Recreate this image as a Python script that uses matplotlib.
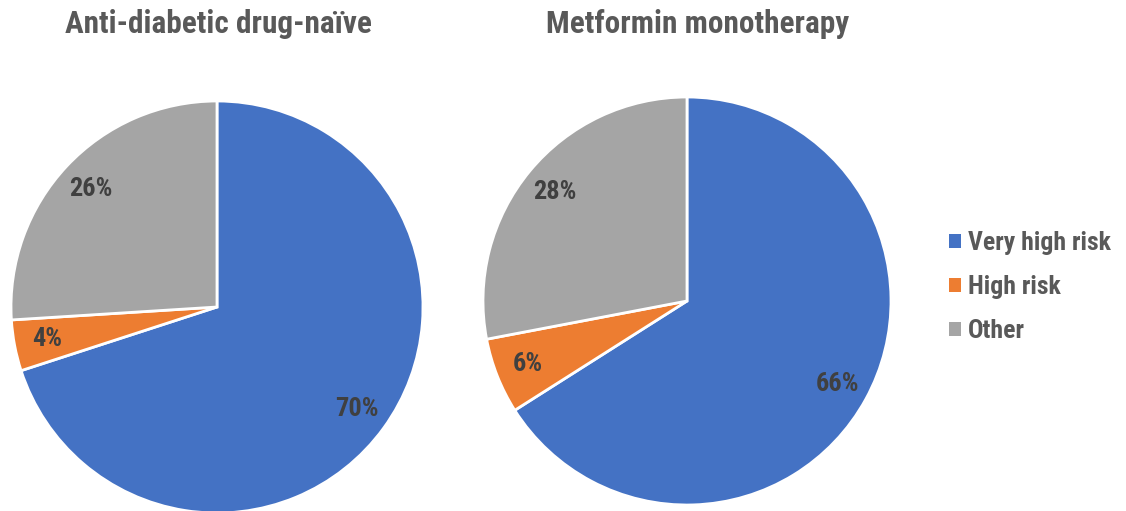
import matplotlib
matplotlib.use("Agg")
import matplotlib.pyplot as plt
from matplotlib.patches import Patch
from matplotlib import font_manager

categories = ["Very high risk", "High risk", "Other"]
titles = ["Anti-diabetic drug-naïve", "Metformin monotherapy"]
naive_values = [70, 4, 26]
metformin_values = [66, 6, 28]
colors = ["#4472C4", "#ED7D31", "#A5A5A5"]

names = {f.name for f in font_manager.fontManager.ttflist}
narrow = None
for cand in ["Liberation Sans Narrow", "Arial Narrow", "Roboto Condensed", "Open Sans Condensed"]:
    if cand in names:
        narrow = cand
        break

if narrow:
    plt.rcParams['font.family'] = [narrow, 'DejaVu Sans']
    title_size, pct_size, leg_size = 22.5, 19, 18.5
else:
    plt.rcParams['font.family'] = ['Liberation Sans', 'DejaVu Sans']
    title_size, pct_size, leg_size = 19.5, 16, 14

W, H = 1126, 511
fig = plt.figure(figsize=(W / 100, H / 100), dpi=100)

def px_axes(cx, cy, r):
    return fig.add_axes([(cx - r) / W, (H - cy - r) / H, 2 * r / W, 2 * r / H])

label_color = "#404040"
title_color = "#595959"

specs = [
    (naive_values, 217, 307, 206, titles[0], 218),
    (metformin_values, 687, 301, 204, titles[1], 698),
]

for vals, cx, cy, r, title, tx in specs:
    ax = px_axes(cx, cy, r)
    wedges, texts, autotexts = ax.pie(
        vals, colors=colors, startangle=90, counterclock=False,
        autopct=lambda p: f"{p:.0f}%", pctdistance=0.84,
        wedgeprops=dict(edgecolor="white", linewidth=2),
        textprops=dict(color=label_color, fontsize=pct_size, fontweight="bold"),
    )
    for w in wedges:
        w.set_clip_on(False)
    ax.set_xlim(-1, 1)
    ax.set_ylim(-1, 1)
    ax.set_aspect("equal")
    ax.axis("off")
    fig.text(tx / W, 1 - 33 / H, title, ha="center", va="baseline",
             fontsize=title_size, fontweight="bold", color=title_color)

handles = [Patch(facecolor=c, edgecolor="none") for c in colors]
leg = fig.legend(handles, categories, loc="center left",
                 bbox_to_anchor=(949 / W, 1 - 287 / H), frameon=False,
                 borderpad=0, borderaxespad=0,
                 handlelength=0.45, handleheight=0.45, handletextpad=0.3,
                 labelspacing=0.78, prop=dict(size=leg_size, weight="bold"))
for t in leg.get_texts():
    t.set_color(title_color)

fig.savefig("out.png", dpi=100, facecolor="white")
